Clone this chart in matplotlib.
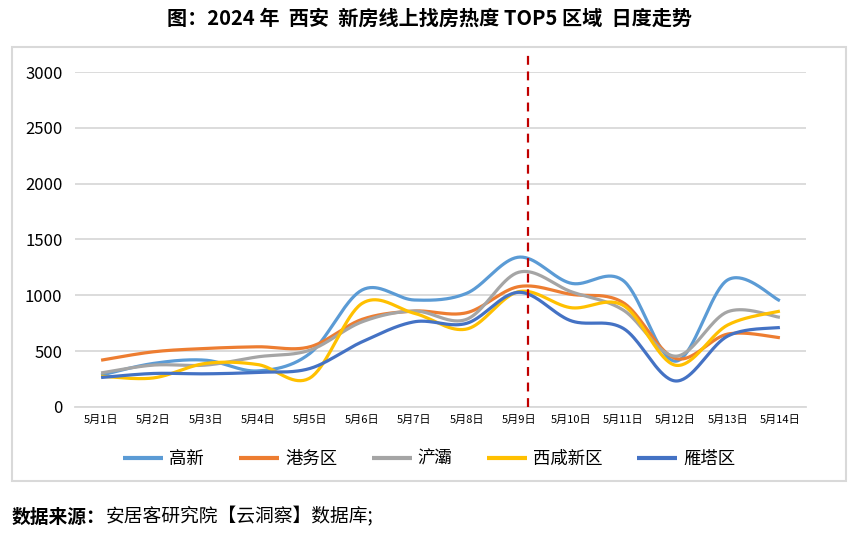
import numpy as np
import matplotlib
matplotlib.use('Agg')
import matplotlib.pyplot as plt
from matplotlib.patches import Rectangle

plt.rcParams['font.family'] = ['Noto Sans CJK SC', 'DejaVu Sans']

# data
dates = ['5月1日', '5月2日', '5月3日', '5月4日', '5月5日', '5月6日', '5月7日',
         '5月8日', '5月9日', '5月10日', '5月11日', '5月12日', '5月13日', '5月14日']
gaoxin   = [285, 390, 419, 323, 480, 1048, 958, 1018, 1342, 1108, 1132, 410, 1138, 952]
gangwu   = [419, 494, 524, 539, 539, 785, 859, 844, 1078, 1009, 934, 435, 653, 620]
chanba   = [305, 375, 375, 449, 509, 763, 859, 785, 1207, 1033, 868, 455, 853, 803]
xixian   = [275, 260, 390, 380, 260, 928, 839, 698, 1033, 889, 910, 374, 734, 859]
yanta    = [264, 300, 297, 310, 345, 584, 763, 749, 1027, 772, 704, 233, 635, 712]
series_names = ['高新', '港务区', '浐灞', '西咸新区', '雁塔区']
colors = ['#5B9BD5', '#ED7D31', '#A5A5A5', '#FFC000', '#4472C4']
yticks = [0, 500, 1000, 1500, 2000, 2500, 3000]
marker_day = 8.17   # red dashed line, just right of 5月9日


def smooth(x, y, n=40):
    """Excel-style smoothed line: cubic Bezier through the points, tangents (p[i+1]-p[i-1])/6."""
    p = np.column_stack([x, y]).astype(float)
    p = np.vstack([p[0], p, p[-1]])
    out = []
    t = np.linspace(0, 1, n)[:, None]
    for i in range(1, len(p) - 2):
        p0, p1, p2, p3 = p[i - 1], p[i], p[i + 1], p[i + 2]
        c1 = p1 + (p2 - p0) / 6
        c2 = p2 - (p3 - p1) / 6
        seg = ((1 - t) ** 3) * p1 + 3 * ((1 - t) ** 2) * t * c1 + 3 * (1 - t) * t ** 2 * c2 + t ** 3 * p2
        out.append(seg if i == 1 else seg[1:])
    s = np.vstack(out)
    return s[:, 0], s[:, 1]


fig = plt.figure(figsize=(8.59, 5.35), dpi=100)
ax = fig.add_axes([0.0873, 0.2393, 0.851, 0.6261])

xs = np.arange(len(dates))
for name, vals, c in zip(series_names, [gaoxin, gangwu, chanba, xixian, yanta], colors):
    sx, sy = smooth(xs, vals)
    ax.plot(sx, sy, color=c, lw=2.3, label=name, solid_capstyle='butt')

ax.plot([marker_day, marker_day], [0, 3200], color='#C00000', lw=1.6, ls=(0, (4, 3)),
        clip_on=False, zorder=5)

ax.set_xlim(-0.5, len(dates) - 0.5)
ax.set_ylim(0, 3000)
ax.set_yticks(yticks)
ax.set_yticklabels([str(v) for v in yticks], fontsize=12)
ax.set_xticks(xs)
ax.set_xticklabels(dates, fontsize=8)
ax.tick_params(axis='both', length=0, colors='#000000')
ax.tick_params(axis='y', pad=9)
ax.tick_params(axis='x', pad=6)
ax.grid(axis='y', color='#D9D9D9', lw=1.3)
ax.set_axisbelow(True)
for side in ['top', 'right', 'left']:
    ax.spines[side].set_visible(False)
ax.spines['bottom'].set_color('#D9D9D9')
ax.spines['bottom'].set_linewidth(1.3)

leg = fig.legend(loc='center', bbox_to_anchor=(0.5, 0.142), ncol=5, frameon=False, fontsize=12.5,
                 handlelength=2.3, handletextpad=0.35, columnspacing=2.0)
for h in leg.get_lines():
    h.set_linewidth(3)

# chart frame
fig.patches.append(Rectangle((12 / 859, 1 - 481 / 535), 834 / 859, 434 / 535, transform=fig.transFigure,
                             fill=False, edgecolor='#D9D9D9', lw=1.5))

fig.text(0.5, 1 - 18 / 535, '图：2024 年  西安  新房线上找房热度 TOP5 区域  日度走势',
         ha='center', va='center', fontsize=14.5, fontweight='bold')

t1 = fig.text(12 / 859, 1 - 517 / 535, '数据来源：', ha='left', va='center', fontsize=13.5,
              fontweight='bold', style='italic')
ax.annotate('安居客研究院【云洞察】数据库;', xy=(1, 0.5), xycoords=t1, ha='left', va='center',
            fontsize=13.5, style='italic', annotation_clip=False)

fig.savefig('out.png', dpi=100)
